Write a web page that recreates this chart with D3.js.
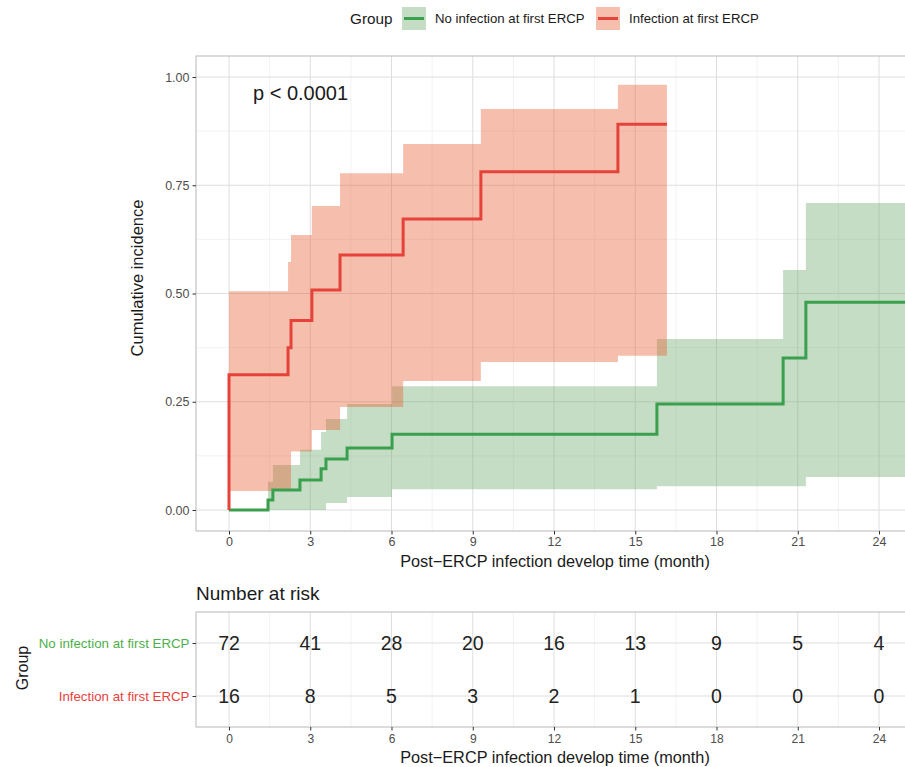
<!DOCTYPE html>
<html><head><meta charset="utf-8">
<script src="https://cdn.jsdelivr.net/npm/d3@7"></script>
<style>body{margin:0;background:#fff}svg{display:block;font-family:"Liberation Sans",Arial,sans-serif}</style>
</head><body>
<script>
// ---- data ----
const groups = ["No infection at first ERCP", "Infection at first ERCP"];
const greenTime  = [0, 1.44, 1.62, 2.62, 3.40, 3.58, 4.36, 6.02, 15.8, 20.46, 21.3, 26.0];
const greenEst   = [0, 0.023, 0.046, 0.069, 0.095, 0.118, 0.143, 0.175, 0.245, 0.351, 0.480, 0.480];
const greenUpper = [0, 0.065, 0.104, 0.139, 0.18, 0.21, 0.245, 0.286, 0.395, 0.554, 0.709, 0.709];
const greenLower = [0, 0, 0, 0, 0, 0.016, 0.03, 0.048, 0.055, 0.055, 0.076, 0.076];
const redTime  = [0, 2.18, 2.29, 3.06, 4.1, 6.43, 9.3, 14.36, 16.17];
const redEst   = [0.3125, 0.375, 0.4375, 0.508, 0.589, 0.672, 0.781, 0.891, 0.891];
const redUpper = [0.505, 0.573, 0.635, 0.702, 0.778, 0.845, 0.926, 0.982, 0.982];
const redLower = [0.044, 0.044, 0.135, 0.185, 0.238, 0.298, 0.342, 0.356, 0.356];
const xTicks = [0, 3, 6, 9, 12, 15, 18, 21, 24];
const yTicks = [0, 0.25, 0.5, 0.75, 1.0];
const yTickLabels = ["0.00", "0.25", "0.50", "0.75", "1.00"];
const riskNoInf = [72, 41, 28, 20, 16, 13, 9, 5, 4];
const riskInf   = [16, 8, 5, 3, 2, 1, 0, 0, 0];
const pText = "p < 0.0001";

// ---- styles ----
const W = 905, H = 767;
const cGreen = "#3A9F4F", cRed = "#E5423A";
const fGreen = "rgb(110,170,107)", fRed = "rgb(233,95,50)";
const svg = d3.select("body").append("svg").attr("width", W).attr("height", H);

const x = d3.scaleLinear().domain([0, 24]).range([229, 879]);
const pL = 196, pR = 922;
const y = d3.scaleLinear().domain([0, 1]).range([510, 77]);
const pT = 56, pB = 531;

svg.append("clipPath").attr("id","clipMain").append("rect").attr("x",pL).attr("y",pT).attr("width",pR-pL).attr("height",pB-pT);

const gGrid = svg.append("g").attr("clip-path","url(#clipMain)");
const minorX = d3.range(-1.5, 26, 3);
gGrid.selectAll(".mx").data(minorX).join("line").attr("x1",d=>x(d)).attr("x2",d=>x(d)).attr("y1",pT).attr("y2",pB).attr("stroke","#EDEDED").attr("stroke-width",0.7);
gGrid.selectAll(".my").data([0.125,0.375,0.625,0.875]).join("line").attr("x1",pL).attr("x2",pR).attr("y1",d=>y(d)).attr("y2",d=>y(d)).attr("stroke","#EDEDED").attr("stroke-width",0.7);
gGrid.selectAll(".Mx").data(xTicks).join("line").attr("x1",d=>x(d)).attr("x2",d=>x(d)).attr("y1",pT).attr("y2",pB).attr("stroke","#DEDEDE").attr("stroke-width",1);
gGrid.selectAll(".My").data(yTicks).join("line").attr("x1",pL).attr("x2",pR).attr("y1",d=>y(d)).attr("y2",d=>y(d)).attr("stroke","#DEDEDE").attr("stroke-width",1);

const gData = svg.append("g").attr("clip-path","url(#clipMain)");
function band(t, lo, hi, fill){
  const pts = t.map((d,i)=>({t:d, lo:lo[i], hi:hi[i]}));
  const area = d3.area().curve(d3.curveStepAfter).x(d=>x(d.t)).y0(d=>y(d.lo)).y1(d=>y(d.hi));
  gData.append("path").attr("d", area(pts)).attr("fill", fill).attr("fill-opacity", 0.4);
}
function curve(t, v, col){
  const pts = t.map((d,i)=>({t:d, v:v[i]}));
  const line = d3.line().curve(d3.curveStepAfter).x(d=>x(d.t)).y(d=>y(d.v));
  gData.append("path").attr("d", line(pts)).attr("fill","none").attr("stroke",col).attr("stroke-width",3);
}
band(greenTime, greenLower, greenUpper, fGreen);
band(redTime, redLower, redUpper, fRed);
curve(greenTime, greenEst, cGreen);
curve([0].concat(redTime), [0].concat(redEst), cRed);

svg.append("rect").attr("x",pL).attr("y",pT).attr("width",pR-pL).attr("height",pB-pT).attr("fill","none").attr("stroke","#B8B8B8").attr("stroke-width",1);

const yAxis = d3.axisLeft(y).tickValues(yTicks).tickFormat((d,i)=>yTickLabels[i]).tickSize(3.5).tickPadding(3);
const gy = svg.append("g").attr("transform",`translate(${pL},0)`).call(yAxis);
gy.select(".domain").remove();
gy.selectAll("line").attr("stroke","#333");
gy.selectAll("text").attr("fill","#4D4D4D").style("font-size","12.5px");
const xAxis = d3.axisBottom(x).tickValues(xTicks).tickSize(3.5).tickPadding(3);
const gx = svg.append("g").attr("transform",`translate(0,${pB})`).call(xAxis);
gx.select(".domain").remove();
gx.selectAll("line").attr("stroke","#333");
gx.selectAll("text").attr("fill","#4D4D4D").style("font-size","12.5px");

svg.append("text").attr("x",555).attr("y",567).attr("text-anchor","middle").style("font-size","16.3px").attr("fill","#1A1A1A").text("Post\u2212ERCP infection develop time (month)");
svg.append("text").attr("transform","translate(143,278) rotate(-90)").attr("text-anchor","middle").style("font-size","16.5px").attr("fill","#1A1A1A").text("Cumulative incidence");
svg.append("text").attr("x",253).attr("y",100).style("font-size","20px").attr("fill","#1A1A1A").text(pText);

svg.append("text").attr("x",350).attr("y",24).style("font-size","15.3px").attr("fill","#1A1A1A").text("Group");
const legItems = [{name:groups[0], fill:fGreen, col:cGreen, x:402}, {name:groups[1], fill:fRed, col:cRed, x:596}];
legItems.forEach(l=>{
  svg.append("rect").attr("x",l.x).attr("y",7).attr("width",24).attr("height",23).attr("fill",l.fill).attr("fill-opacity",0.4);
  svg.append("line").attr("x1",l.x+2).attr("x2",l.x+22).attr("y1",18.5).attr("y2",18.5).attr("stroke",l.col).attr("stroke-width",3);
  svg.append("text").attr("x",l.x+33).attr("y",23).style("font-size","13.2px").attr("fill","#1A1A1A").text(l.name);
});

// ---- risk table ----
const tT = 612, tB = 727;
const yr = d3.scalePoint().domain(groups).range([643, 696]);
svg.append("clipPath").attr("id","clipTab").append("rect").attr("x",pL).attr("y",tT).attr("width",pR-pL).attr("height",tB-tT);
const gT = svg.append("g").attr("clip-path","url(#clipTab)");
gT.selectAll(".mx").data(minorX).join("line").attr("x1",d=>x(d)).attr("x2",d=>x(d)).attr("y1",tT).attr("y2",tB).attr("stroke","#EDEDED").attr("stroke-width",0.7);
gT.selectAll(".Mx").data(xTicks).join("line").attr("x1",d=>x(d)).attr("x2",d=>x(d)).attr("y1",tT).attr("y2",tB).attr("stroke","#DEDEDE").attr("stroke-width",1);
gT.selectAll(".My").data(groups).join("line").attr("x1",pL).attr("x2",pR).attr("y1",d=>yr(d)).attr("y2",d=>yr(d)).attr("stroke","#DEDEDE").attr("stroke-width",1);
svg.append("rect").attr("x",pL).attr("y",tT).attr("width",pR-pL).attr("height",tB-tT).attr("fill","none").attr("stroke","#B8B8B8").attr("stroke-width",1);

[[groups[0], riskNoInf], [groups[1], riskInf]].forEach(([g, vals])=>{
  svg.selectAll(null).data(vals).join("text").attr("x",(d,i)=>x(xTicks[i])).attr("y",yr(g)).attr("dy","0.36em")
    .attr("text-anchor","middle").style("font-size","19.5px").attr("fill","#222").text(d=>d);
});
const ryAxis = d3.axisLeft(yr).tickSize(3.5).tickPadding(3);
const gry = svg.append("g").attr("transform",`translate(${pL},0)`).call(ryAxis);
gry.select(".domain").remove();
gry.selectAll("line").attr("stroke","#333");
gry.selectAll("text").style("font-size","13.3px").attr("fill",(d,i)=>i===0?"#4DAF4A":"#E8413C");
const rxAxis = d3.axisBottom(x).tickValues(xTicks).tickSize(3.5).tickPadding(4);
const grx = svg.append("g").attr("transform",`translate(0,${tB})`).call(rxAxis);
grx.select(".domain").remove();
grx.selectAll("line").attr("stroke","#333");
grx.selectAll("text").attr("fill","#4D4D4D").style("font-size","12px");
svg.append("text").attr("x",555).attr("y",763).attr("text-anchor","middle").style("font-size","16.3px").attr("fill","#1A1A1A").text("Post\u2212ERCP infection develop time (month)");
svg.append("text").attr("x",196).attr("y",600).style("font-size","19px").attr("fill","#1A1A1A").text("Number at risk");
svg.append("text").attr("transform","translate(28,668) rotate(-90)").attr("text-anchor","middle").style("font-size","16px").attr("fill","#1A1A1A").text("Group");
</script>
</body></html>
